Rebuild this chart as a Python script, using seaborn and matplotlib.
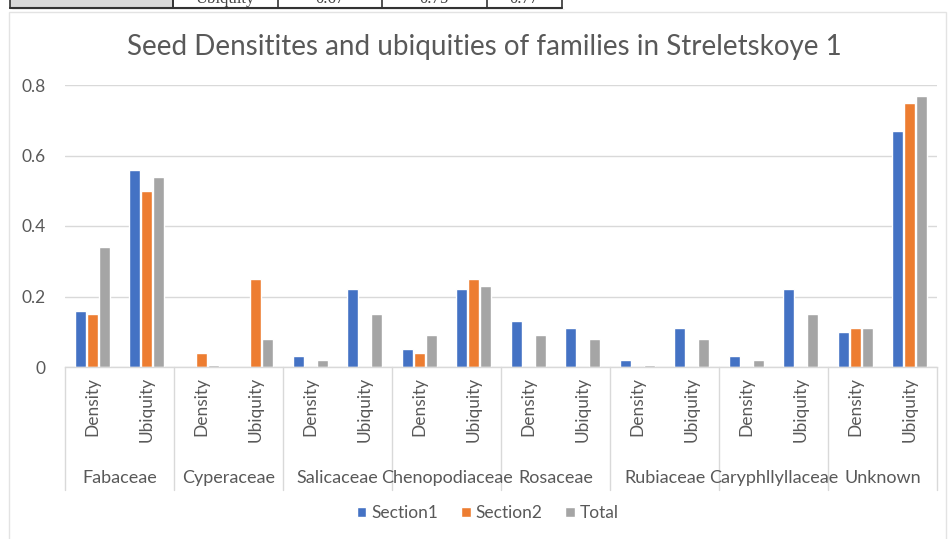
import numpy as np
import pandas as pd
import matplotlib
matplotlib.use("Agg")
import matplotlib.pyplot as plt
import matplotlib.transforms as mtransforms
from matplotlib.patches import Rectangle
import seaborn as sns

# ---------------- data ----------------
families = ["Fabaceae", "Cyperaceae", "Salicaceae", "Chenopodiaceae",
            "Rosaceae", "Rubiaceae", "Caryphllyllaceae", "Unknown"]
measures = ["Density", "Ubiquity"]
series_names = ["Section1", "Section2", "Total"]
section1 = [0.16, 0.56, 0.00, 0.00, 0.03, 0.22, 0.05, 0.22,
            0.13, 0.11, 0.02, 0.11, 0.03, 0.22, 0.10, 0.67]
section2 = [0.15, 0.50, 0.04, 0.25, 0.00, 0.00, 0.04, 0.25,
            0.00, 0.00, 0.00, 0.00, 0.00, 0.00, 0.11, 0.75]
total = [0.34, 0.54, 0.005, 0.08, 0.02, 0.15, 0.09, 0.23,
         0.09, 0.08, 0.007, 0.08, 0.02, 0.15, 0.11, 0.77]
y_ticks = [0, 0.2, 0.4, 0.6, 0.8]
y_tick_labels = ["0", "0.2", "0.4", "0.6", "0.8"]
title = "Seed Densitites and ubiquities of families in Streletskoye 1"
table_fragment = ["Ubiquity", "0.67", "0.75", "0.77"]

colors = ["#4472C4", "#ED7D31", "#A5A5A5"]
text_col = "#595959"

# ---------------- frame ----------------
keys = [f"{f}|{m}" for f in families for m in measures]
rows = []
for name, vals in zip(series_names, [section1, section2, total]):
    for k, v in zip(keys, vals):
        rows.append({"key": k, "series": name, "value": v})
df = pd.DataFrame(rows)

sns.set_theme(style="white")
plt.rcParams["font.family"] = ["Lato", "DejaVu Sans"]

W, H = 948, 539
fig = plt.figure(figsize=(W / 100, H / 100), dpi=100)
fig.patch.set_facecolor("white")

# chart border (faint)
fig.patches.append(Rectangle((9 / W, -0.01), (946 - 9) / W, (539 - 12) / H + 0.01,
                             transform=fig.transFigure, fill=False,
                             edgecolor="#E3E3E3", linewidth=1.0))

ax = fig.add_axes([65 / W, 1 - 367 / H, (937 - 65) / W, (367 - 85) / H])
sns.barplot(data=df, x="key", y="value", hue="series", order=keys,
            hue_order=series_names, palette=colors, width=0.66, gap=0.12,
            saturation=1, ax=ax, legend=True)

ax.set_ylim(0, 0.8)
ax.set_xlim(-0.5, len(keys) - 0.5)
ax.set_yticks(y_ticks)
ax.set_yticklabels(y_tick_labels)
ax.yaxis.grid(True, color="#D9D9D9", linewidth=1.0)
ax.set_axisbelow(True)
for s in ["top", "right", "left"]:
    ax.spines[s].set_visible(False)
ax.spines["bottom"].set_color("#D9D9D9")
ax.spines["bottom"].set_linewidth(1.0)
ax.set_xlabel("")
ax.set_ylabel("")
ax.tick_params(axis="y", length=0, pad=14, labelsize=12.5, labelcolor=text_col)
ax.set_xticks(range(len(keys)))
ax.set_xticklabels([m for f in families for m in measures], rotation=90,
                   fontsize=12.5, color=text_col)
ax.tick_params(axis="x", length=0, pad=7)

# group labels and separators
trans = mtransforms.blended_transform_factory(ax.transData, ax.transAxes)
sep_len = (490 - 367) / (367 - 85)
for i, fam in enumerate(families):
    ax.text(2 * i + 0.5, -(478 - 367) / (367 - 85), fam, transform=trans,
            ha="center", va="center", fontsize=13, color=text_col)
for j in range(len(families) + 1):
    ax.plot([2 * j - 0.5, 2 * j - 0.5], [0, -sep_len], transform=trans,
            color="#D9D9D9", linewidth=1.0, clip_on=False)

fig.text(0.5 * (120 + 848) / W, 1 - 47 / H, title, ha="center", va="center",
         fontsize=20, color=text_col)

# legend
handles, labels = ax.get_legend_handles_labels()
ax.legend(handles, labels, loc="center",
          bbox_to_anchor=((488 - 65) / (937 - 65), -(513 - 367) / (367 - 85)),
          bbox_transform=ax.transAxes, ncol=3, frameon=False, fontsize=12.5,
          handlelength=0.55, handleheight=0.55, handletextpad=0.3, columnspacing=1.3,
          labelcolor=text_col)

# top table fragment (cropped spreadsheet row)
tax = fig.add_axes([0, 1 - 10 / H, 1, 10 / H])
tax.set_xlim(0, W)
tax.set_ylim(10, 0)
tax.axis("off")
tax.add_patch(Rectangle((10, -5), 163, 13, facecolor="#D9D9D9",
                        edgecolor="#333333", linewidth=1.2))
for xv in [173, 278, 382, 487, 562]:
    tax.plot([xv, xv], [0, 8], color="#333333", linewidth=1.2)
tax.plot([10, 562], [8, 8], color="#333333", linewidth=1.5)
tax.plot([12, 564], [9.5, 9.5], color="#BBBBBB", linewidth=1.0)
cell_centers = [225, 330, 434, 524]
for cx, txt in zip(cell_centers, table_fragment):
    tax.text(cx, -1, txt, ha="center", va="center", fontsize=12,
             color="#444444", clip_on=True, family="Liberation Serif")

fig.savefig("out.png", dpi=100, facecolor="white")
